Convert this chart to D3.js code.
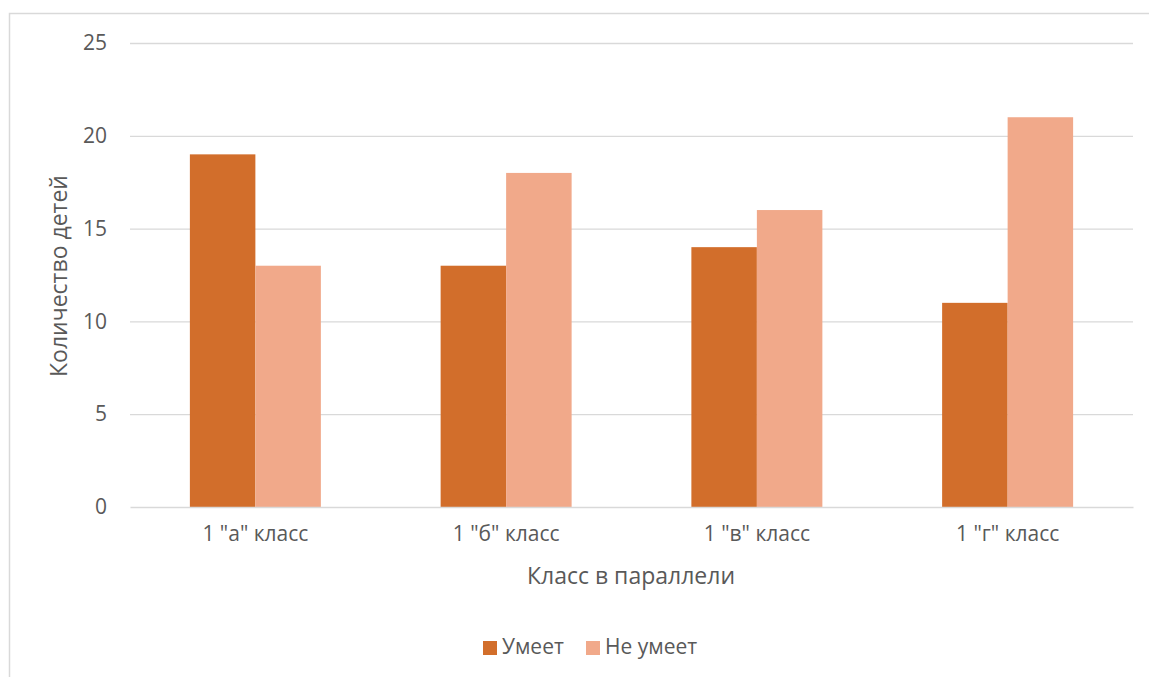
<!DOCTYPE html>
<html><head><meta charset="utf-8">
<script src="https://cdn.jsdelivr.net/npm/d3@7"></script>
<style>
html,body{margin:0;padding:0;background:#fff;}
svg{display:block;font-family:"Open Sans",sans-serif;}
</style></head>
<body>
<svg id="chart" width="1149" height="677"></svg>
<script>
const categories = ['1 "а" класс', '1 "б" класс', '1 "в" класс', '1 "г" класс'];
const seriesNames = ["Умеет", "Не умеет"];
const canValues = [19, 13, 14, 11];
const cannotValues = [13, 18, 16, 21];
const yTicks = [0, 5, 10, 15, 20, 25];
const colors = ["#D26E2B", "#F1A98A"];
const yTitle = "Количество детей";
const xTitle = "Класс в параллели";

(function () {
const data = categories.map((c, i) => ({cat: c, vals: [canValues[i], cannotValues[i]]}));

const svg = d3.select("#chart");
const textColor = "#595959";
const small = "21px", big = "23px";

// chart border
svg.append("rect").attr("x", 9.5).attr("y", 13.5).attr("width", 1160).attr("height", 700)
  .attr("fill", "none").attr("stroke", "#D9D9D9").attr("stroke-width", 1.5);

const pLeft = 130, pRight = 1133, pTop = 43, pBottom = 507;
const x0 = d3.scaleBand().domain(categories).range([pLeft, pRight]).padding(0);
const bw = x0.bandwidth();
const x1 = d3.scaleBand().domain(seriesNames).range([bw * 0.2388, bw * 0.7612]).padding(0);
const y = d3.scaleLinear().domain([0, 25]).range([pBottom, pTop]);

// gridlines
const yAxis = d3.axisLeft(y).tickValues(yTicks).tickSize(-(pRight - pLeft)).tickPadding(23);
const gy = svg.append("g").attr("transform", `translate(${pLeft},0)`).call(yAxis);
gy.select(".domain").remove();
gy.selectAll(".tick line").attr("stroke", "#D9D9D9").attr("stroke-width", 1.3)
  .attr("opacity", d => d === 0 ? 0 : 1);
gy.selectAll(".tick text").attr("fill", textColor).style("font-size", small)
  .style("font-family", "'Open Sans',sans-serif");

// bars
const groups = svg.append("g").selectAll("g").data(data).join("g")
  .attr("transform", d => `translate(${x0(d.cat)},0)`);
groups.selectAll("rect").data(d => d.vals.map((v, j) => ({name: seriesNames[j], v, j})))
  .join("rect")
  .attr("x", d => x1(d.name))
  .attr("width", x1.bandwidth())
  .attr("y", d => y(d.v))
  .attr("height", d => y(0) - y(d.v))
  .attr("fill", d => colors[d.j]);

// x axis
const xAxis = d3.axisBottom(x0).tickSize(0).tickPadding(19);
const gx = svg.append("g").attr("transform", `translate(0,${pBottom})`).call(xAxis);
gx.select(".domain").attr("stroke", "#D9D9D9").attr("stroke-width", 1.5);
gx.selectAll(".tick text").attr("fill", textColor).style("font-size", small)
  .style("font-family", "'Open Sans',sans-serif");

// axis titles
svg.append("text").attr("x", (pLeft + pRight) / 2 - 0.5).attr("y", 578)
  .attr("text-anchor", "middle").attr("dominant-baseline", "middle")
  .attr("fill", textColor).style("font-size", big).text(xTitle);
svg.append("text").attr("transform", `translate(61,276) rotate(-90)`)
  .attr("text-anchor", "middle").attr("dominant-baseline", "middle")
  .attr("fill", textColor).style("font-size", big).text(yTitle);

// legend
const legendItems = [{name: seriesNames[0], x: 483}, {name: seriesNames[1], x: 586}];
const lg = svg.append("g").selectAll("g").data(legendItems).join("g")
  .attr("transform", d => `translate(${d.x},641)`);
lg.append("rect").attr("width", 14).attr("height", 14).attr("fill", (d, i) => colors[i]);
lg.append("text").attr("x", 19).attr("y", 7).attr("dominant-baseline", "middle")
  .attr("fill", textColor).style("font-size", small).text(d => d.name);
})();
</script>
</body></html>
